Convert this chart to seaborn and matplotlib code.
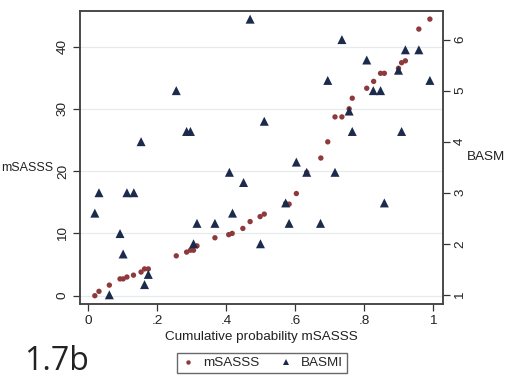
import matplotlib
matplotlib.use("Agg")
import matplotlib.pyplot as plt
import seaborn as sns
import pandas as pd
from matplotlib.lines import Line2D

# Data
prob_msasss = [0.020, 0.032, 0.062, 0.093, 0.102, 0.113, 0.132, 0.154, 0.164, 0.175,
               0.256, 0.286, 0.297, 0.306, 0.316, 0.368, 0.408, 0.418, 0.449, 0.470,
               0.499, 0.511, 0.573, 0.583, 0.604, 0.634, 0.675, 0.695, 0.716, 0.736,
               0.757, 0.766, 0.808, 0.828, 0.848, 0.859, 0.900, 0.909, 0.920, 0.959, 0.991]
msasss = [0.0, 0.7, 1.7, 2.7, 2.7, 3.0, 3.3, 3.8, 4.3, 4.3,
          6.4, 7.0, 7.3, 7.3, 8.0, 9.3, 9.8, 10.0, 10.8, 11.9,
          12.7, 13.1, 14.8, 14.7, 16.4, 19.8, 22.1, 24.7, 28.7, 28.7,
          30.0, 31.7, 33.3, 34.4, 35.7, 35.7, 36.5, 37.4, 37.7, 42.8, 44.4]

prob_basmi = [0.020, 0.032, 0.062, 0.093, 0.102, 0.113, 0.133, 0.154, 0.164, 0.175,
              0.256, 0.286, 0.297, 0.306, 0.316, 0.368, 0.410, 0.419, 0.451, 0.470,
              0.500, 0.511, 0.573, 0.583, 0.604, 0.634, 0.674, 0.695, 0.716, 0.736,
              0.757, 0.766, 0.808, 0.827, 0.848, 0.859, 0.900, 0.909, 0.920, 0.959, 0.991]
basmi = [2.6, 3.0, 1.0, 2.2, 1.8, 3.0, 3.0, 4.0, 1.2, 1.4,
         5.0, 4.2, 4.2, 2.0, 2.4, 2.4, 3.4, 2.6, 3.2, 6.4,
         2.0, 4.4, 2.8, 2.4, 3.6, 3.4, 2.4, 5.2, 3.4, 6.0,
         4.6, 4.2, 5.6, 5.0, 5.0, 2.8, 5.4, 4.2, 5.8, 5.8, 5.2]

x_ticks = [0, 0.2, 0.4, 0.6, 0.8, 1.0]
x_ticklabels = ["0", ".2", ".4", ".6", ".8", "1"]
left_ticks = [0, 10, 20, 30, 40]
right_ticks = [1, 2, 3, 4, 5, 6]

df1 = pd.DataFrame({"p": prob_msasss, "v": msasss})
df2 = pd.DataFrame({"p": prob_basmi, "v": basmi})

sns.set_theme(style="white")
plt.rcParams["font.family"] = ["Liberation Sans", "DejaVu Sans"]

red = "#8e3a3c"
navy = "#1c2a4b"
fs = 9.7

fig = plt.figure(figsize=(5.05, 3.76), dpi=100)
ax = fig.add_axes([80 / 505, 72 / 376, 363 / 505, 293 / 376])
ax2 = ax.twinx()

sns.scatterplot(data=df1, x="p", y="v", ax=ax, color=red, marker="o", s=15,
                edgecolor="none", legend=False, zorder=3)
sns.scatterplot(data=df2, x="p", y="v", ax=ax2, color=navy, marker="^", s=42,
                edgecolor="none", legend=False, zorder=3)

ax.set_xlim(-0.023, 1.029)
ax.set_ylim(-1.33, 45.7)
ax2.set_ylim(0.82, 6.56)

ax.set_xticks(x_ticks)
ax.set_xticklabels(x_ticklabels)
ax.set_yticks(left_ticks)
ax2.set_yticks(right_ticks)
ax.yaxis.grid(True, color="#e6eaee", linewidth=0.9)
ax.xaxis.grid(False)
ax2.grid(False)

for a in (ax, ax2):
    a.tick_params(axis="both", which="major", length=5, width=0.9, color="#333333",
                  labelsize=fs, labelcolor="#222222", direction="out", pad=3)
    for sp in a.spines.values():
        sp.set_color("#444444")
        sp.set_linewidth(1.1)
ax.tick_params(axis="x", bottom=True)
ax.tick_params(axis="y", left=True)
ax2.tick_params(axis="y", right=True)
for lab in ax.get_yticklabels():
    lab.set_rotation(90)
    lab.set_va("center")
for lab in ax2.get_yticklabels():
    lab.set_rotation(90)
    lab.set_va("center")

ax.set_xlabel("Cumulative probability mSASSS", fontsize=fs, color="#222222", labelpad=3)
ax.set_ylabel("")
ax2.set_ylabel("")
fig.text(1 / 505, 1 - 168 / 376, "mSASSS", fontsize=9.0, color="#222222",
         ha="left", va="center")
fig.text(467 / 505, 1 - 157 / 376, "BASMI", fontsize=fs, color="#222222",
         ha="left", va="center")

fig.text(24 / 505, 1 - 361 / 376, "1.7b", fontsize=23, color="#222222",
         family=["Open Sans", "DejaVu Sans"], ha="left", va="center")

handles = [
    Line2D([], [], linestyle="none", marker="o", markersize=3.2, color=red,
           markeredgewidth=0),
    Line2D([], [], linestyle="none", marker="^", markersize=5, color=navy,
           markeredgewidth=0),
]
leg = fig.legend(handles, ["mSASSS", "BASMI"], loc="center",
                 bbox_to_anchor=(262 / 505, 1 - 363 / 376), ncol=2, frameon=True,
                 fontsize=fs, handlelength=1.0, handletextpad=0.6,
                 columnspacing=1.5, borderpad=0.3, fancybox=False)
leg.get_frame().set_edgecolor("#444444")
leg.get_frame().set_linewidth(1.0)

fig.savefig("out.png", dpi=100)
